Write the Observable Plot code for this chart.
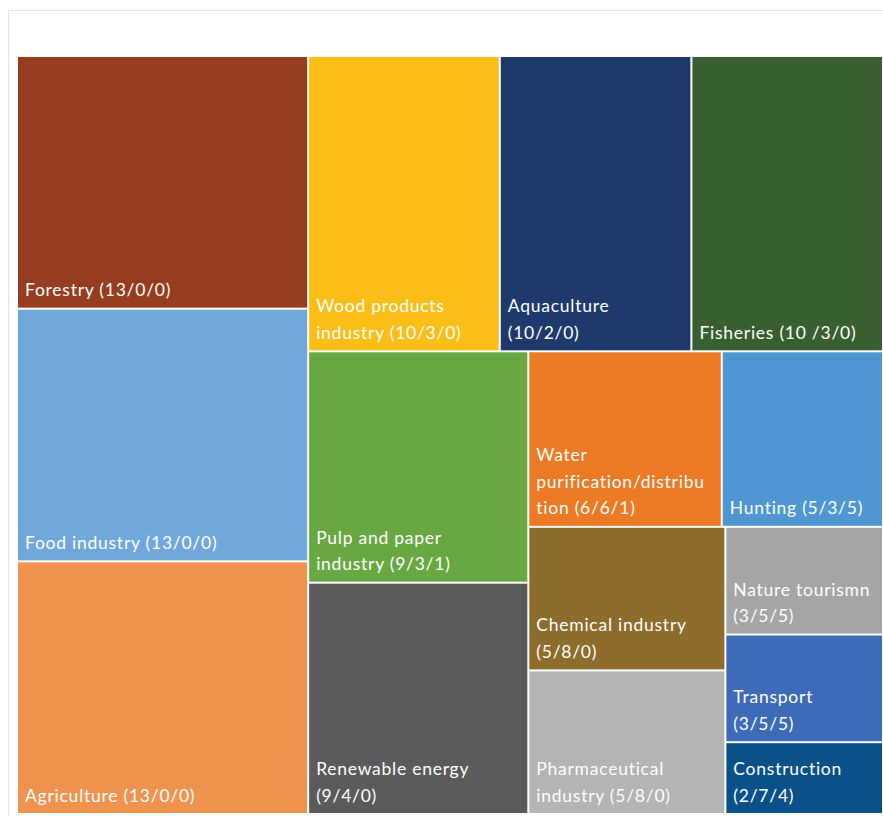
<!DOCTYPE html>
<html>
<head>
<meta charset="utf-8">
<script src="https://cdn.jsdelivr.net/npm/d3@7"></script>
<script src="https://cdn.jsdelivr.net/npm/@observablehq/plot@0.6"></script>
<style>
  html, body { margin: 0; padding: 0; background: #fff; overflow: hidden; }
  #frame { position: absolute; left: 8px; top: 10px; width: 1000px; height: 1000px; border: 1px solid #e3e3e3; box-sizing: border-box; }
  #chart { position: absolute; left: 0; top: 0; }
</style>
</head>
<body>
<div id="frame"></div>
<div id="chart"></div>
<script>
const categories = [
  "Forestry", "Food industry", "Agriculture",
  "Wood products industry", "Aquaculture", "Fisheries",
  "Pulp and paper industry", "Renewable energy",
  "Water purification/distribution", "Hunting",
  "Chemical industry", "Pharmaceutical industry",
  "Nature tourismn", "Transport", "Construction"
];
const values = [13, 13, 13, 10, 10, 10, 9, 9, 6, 5, 5, 5, 3, 3, 2];
const labels = [
  "Forestry (13/0/0)", "Food industry (13/0/0)", "Agriculture (13/0/0)",
  "Wood products\nindustry (10/3/0)", "Aquaculture\n(10/2/0)", "Fisheries (10 /3/0)",
  "Pulp and paper\nindustry (9/3/1)", "Renewable energy\n(9/4/0)",
  "Water\npurification/distribu\ntion (6/6/1)", "Hunting (5/3/5)",
  "Chemical industry\n(5/8/0)", "Pharmaceutical\nindustry (5/8/0)",
  "Nature tourismn\n(3/5/5)", "Transport\n(3/5/5)", "Construction\n(2/7/4)"
];
const colors = [
  "#953d1e", "#71a8db", "#f0934f",
  "#fbbe17", "#1e3a6d", "#375f2f",
  "#68a843", "#5a5b5a",
  "#ec7923", "#4f97d2",
  "#8e6c2b", "#b3b4b3",
  "#a5a5a5", "#3e6bb7", "#0b5189"
];

const W = 883, H = 816;
const margin = {top: 56, right: 0, bottom: 2, left: 17};
const innerW = W - margin.left - margin.right;
const innerH = H - margin.top - margin.bottom;

const rootData = {children: categories.map((c, i) => ({name: c, value: values[i], label: labels[i], color: colors[i]}))};
const root = d3.hierarchy(rootData).sum(d => d.value || 0).sort((a, b) => b.value - a.value);
d3.treemap().tile(d3.treemapSquarify.ratio(1.2)).size([innerW, innerH]).round(false)(root);
const leaves = root.leaves().map(n => ({x0: n.x0, x1: n.x1, y0: n.y0, y1: n.y1, ...n.data}));

const plot = Plot.plot({
  width: W,
  height: H,
  marginTop: margin.top,
  marginRight: margin.right,
  marginBottom: margin.bottom,
  marginLeft: margin.left,
  x: {domain: [0, innerW], axis: null},
  y: {domain: [0, innerH], reverse: true, axis: null},
  color: {type: "identity"},
  style: {fontFamily: "Lato, 'Open Sans', sans-serif", background: "transparent", letterSpacing: "0.75px"},
  marks: [
    Plot.rect(leaves, {x1: "x0", x2: "x1", y1: "y0", y2: "y1", fill: "color", inset: 1}),
    Plot.text(leaves, {
      x: "x0", y: "y1", text: "label",
      textAnchor: "start", lineAnchor: "bottom",
      dx: 7.5, dy: -13,
      fill: "white", fontSize: 17.5, lineHeight: 1.51
    })
  ]
});
document.getElementById("chart").appendChild(plot);
</script>
</body>
</html>
